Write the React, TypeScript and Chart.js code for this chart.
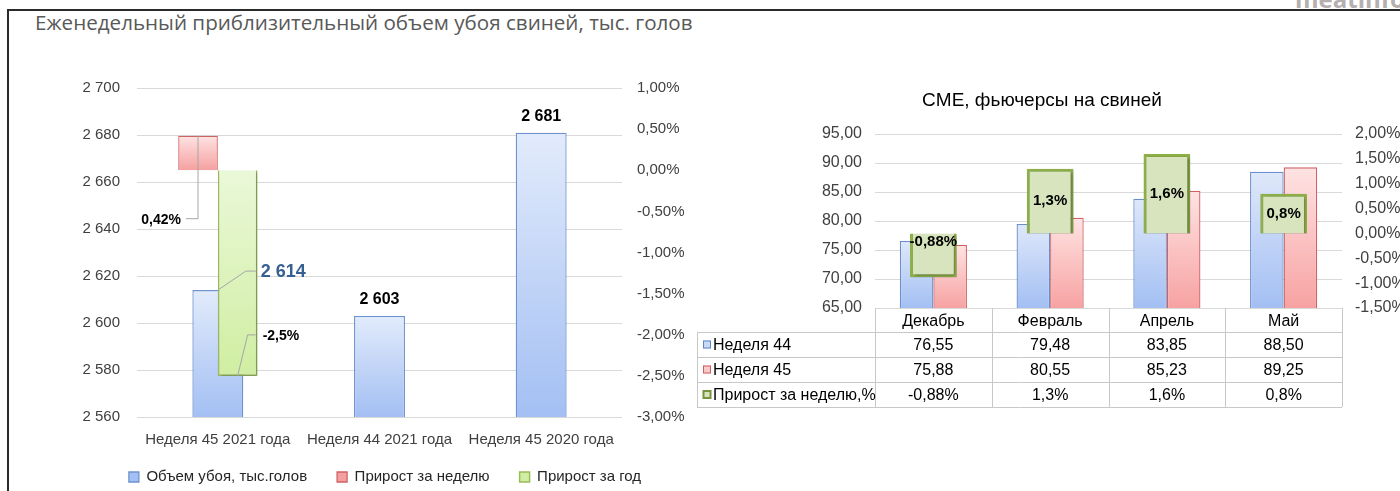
import React, { useEffect, useRef } from 'react';
import { Chart, registerables } from 'chart.js';

Chart.register(...registerables);

// ---------- data: left chart ----------
const leftCategories = ['Неделя 45 2021 года', 'Неделя 44 2021 года', 'Неделя 45 2020 года'];
const slaughterValues = [2614, 2603, 2681];
const weeklyGrowth = [0.42, null, null];
const yearlyGrowth = [-2.5, null, null];
const leftSeriesNames = ['Объем убоя, тыс.голов', 'Прирост за неделю', 'Прирост за год'];

// ---------- data: right chart ----------
const rightCategories = ['Декабрь', 'Февраль', 'Апрель', 'Май'];
const week44 = [76.55, 79.48, 83.85, 88.5];
const week45 = [75.88, 80.55, 85.23, 89.25];
const weekGrowthPct = [-0.88, 1.3, 1.6, 0.8];
const rightSeriesNames = ['Неделя 44', 'Неделя 45', 'Прирост за неделю,%'];

const FONT = "'Liberation Sans', Arial, sans-serif";
const TXT = '#404040';

Chart.defaults.font.family = FONT;
Chart.defaults.color = TXT;

function barGradient(top: string, bottom: string, yAxis: string, baseValue: number | null) {
  return (ctx: any) => {
    const chart = ctx.chart;
    const area = chart.chartArea;
    if (!area || ctx.type !== 'data' || ctx.raw == null) return top;
    const scale = chart.scales[yAxis];
    const yv = scale.getPixelForValue(ctx.raw);
    const yb = baseValue == null ? area.bottom : scale.getPixelForValue(baseValue);
    const y0 = Math.min(yv, yb);
    const y1 = Math.max(yv, yb);
    if (!(y1 > y0)) return top;
    const g = chart.ctx.createLinearGradient(0, y0, 0, y1);
    g.addColorStop(0, top);
    g.addColorStop(1, bottom);
    return g;
  };
}

const fmtThousands = (v: number) => {
  const th = Math.floor(v / 1000);
  const rest = String(Math.round(v % 1000)).padStart(3, '0');
  return th > 0 ? `${th} ${rest}` : rest;
};
const fmtPct2 = (v: number) => v.toFixed(2).replace('.', ',') + '%';
const fmtNum2 = (v: number) => v.toFixed(2).replace('.', ',');
const fmtPctRaw = (v: number) => String(v).replace('.', ',') + '%';

function shadowPlugin(id: string, datasetIndex: number) {
  return {
    id,
    beforeDatasetDraw(chart: any, args: any) {
      if (args.index !== datasetIndex) return;
      const c = chart.ctx;
      c.save();
      c.shadowColor = 'rgba(0,0,0,0.35)';
      c.shadowBlur = 3;
      c.shadowOffsetX = 1.5;
      c.shadowOffsetY = 1.5;
    },
    afterDatasetDraw(chart: any, args: any) {
      if (args.index !== datasetIndex) return;
      chart.ctx.restore();
    },
  };
}

const legendShift = {
  id: 'legendShift',
  afterLayout(chart: any) {
    const l = chart.legend;
    if (l) {
      l.top -= 13.5;
      l.bottom -= 13.5;
    }
  },
};

const leftLabelsPlugin = {
  id: 'leftLabels',
  afterDatasetsDraw(chart: any) {
    const c = chart.ctx;
    c.save();
    const blue = chart.getDatasetMeta(0).data;
    const red = chart.getDatasetMeta(1).data;
    const green = chart.getDatasetMeta(2).data;
    c.strokeStyle = '#A6A6A6';
    c.lineWidth = 1;
    slaughterValues.forEach((v, i) => {
      const b = blue[i];
      if (i === 0) {
        c.beginPath();
        c.moveTo(b.x, b.y);
        c.lineTo(b.x + 28, b.y - 19);
        c.lineTo(b.x + 38, b.y - 19);
        c.stroke();
        c.font = `bold 18px ${FONT}`;
        c.fillStyle = '#376092';
        c.textAlign = 'left';
        c.textBaseline = 'middle';
        c.fillText(fmtThousands(v), b.x + 43, b.y - 18);
      } else {
        c.font = `bold 16px ${FONT}`;
        c.fillStyle = '#000';
        c.textAlign = 'center';
        c.textBaseline = 'bottom';
        c.fillText(fmtThousands(v), b.x, b.y - 8);
      }
    });
    weeklyGrowth.forEach((v, i) => {
      if (v == null) return;
      const r = red[i];
      c.beginPath();
      c.moveTo(r.x, r.y);
      c.lineTo(r.x, r.y + 83);
      c.lineTo(r.x - 12, r.y + 83);
      c.stroke();
      c.font = `bold 14px ${FONT}`;
      c.fillStyle = '#000';
      c.textAlign = 'right';
      c.textBaseline = 'middle';
      c.fillText(fmtPctRaw(v), r.x - 17, r.y + 84);
    });
    yearlyGrowth.forEach((v, i) => {
      if (v == null) return;
      const g = green[i];
      c.beginPath();
      c.moveTo(g.x, g.y);
      c.lineTo(g.x + 10, g.y - 41);
      c.lineTo(g.x + 18, g.y - 41);
      c.stroke();
      c.font = `bold 14px ${FONT}`;
      c.fillStyle = '#000';
      c.textAlign = 'left';
      c.textBaseline = 'middle';
      c.fillText(fmtPctRaw(v), g.x + 25, g.y - 40);
    });
    c.restore();
  },
};

const rightPlugin = {
  id: 'rightTable',
  afterDatasetsDraw(chart: any) {
    const c = chart.ctx;
    const green = chart.getDatasetMeta(2).data;
    c.save();
    c.font = `bold 15px ${FONT}`;
    c.fillStyle = '#000';
    c.textAlign = 'center';
    c.textBaseline = 'middle';
    weekGrowthPct.forEach((v, i) => {
      const g = green[i];
      const top = Math.min(g.y, g.base);
      const bot = Math.max(g.y, g.base);
      const y = v < 0 ? top + 8 : (top + bot) / 2;
      c.fillText(fmtPctRaw(v), g.x, y);
    });
    c.restore();
  },
  afterDraw(chart: any) {
    const c = chart.ctx;
    const xs = chart.scales.x;
    const area = chart.chartArea;
    const n = rightCategories.length;
    const colW = xs.width / n;
    const tableLeft = 7;
    const headerH = 24;
    const rowH = 25;
    const top = area.bottom;
    const rowsTop = top + headerH;
    const rows = [week44, week45, weekGrowthPct];
    const keys = [
      { fill: '#C9D9F6', stroke: '#5B86C9', w: 1 },
      { fill: '#F9C8C8', stroke: '#D05F5F', w: 1 },
      { fill: '#D7E4BD', stroke: '#77933C', w: 2 },
    ];
    c.save();
    c.strokeStyle = '#C8C8C8';
    c.lineWidth = 1;
    c.beginPath();
    for (let i = 0; i <= n; i++) {
      const x = Math.round(xs.left + i * colW) + 0.5;
      c.moveTo(x, top);
      c.lineTo(x, rowsTop + rows.length * rowH);
    }
    for (let r = 0; r <= rows.length; r++) {
      const y = Math.round(rowsTop + r * rowH) + 0.5;
      c.moveTo(tableLeft, y);
      c.lineTo(xs.right, y);
    }
    c.moveTo(tableLeft + 0.5, rowsTop);
    c.lineTo(tableLeft + 0.5, rowsTop + rows.length * rowH);
    c.stroke();

    c.font = `16px ${FONT}`;
    c.textBaseline = 'middle';
    rows.forEach((vals, r) => {
      const cy = rowsTop + r * rowH + rowH / 2 + 1;
      const k = keys[r];
      c.fillStyle = k.fill;
      c.fillRect(tableLeft + 6, cy - 5, 8, 8);
      c.strokeStyle = k.stroke;
      c.lineWidth = k.w;
      c.strokeRect(tableLeft + 6.5, cy - 4.5, 7, 7);
      c.fillStyle = '#000';
      c.textAlign = 'left';
      c.fillText(chart.data.datasets[r].label, tableLeft + 16, cy);
      c.textAlign = 'center';
      vals.forEach((v, i) => {
        const x = xs.getPixelForValue(i);
        c.fillText(r < 2 ? fmtNum2(v) : fmtPctRaw(v), x, cy);
      });
    });
    c.restore();
  },
};

export default function App() {
  const leftRef = useRef<HTMLCanvasElement>(null);
  const rightRef = useRef<HTMLCanvasElement>(null);

  useEffect(() => {
    const left = new Chart(leftRef.current as HTMLCanvasElement, {
      type: 'bar',
      data: {
        labels: leftCategories,
        datasets: [
          {
            label: leftSeriesNames[0],
            data: slaughterValues,
            yAxisID: 'y',
            order: 2,
            grouped: false,
            backgroundColor: barGradient('#E2EBFB', '#A3BFF3', 'y', null),
            borderColor: '#6F93CF',
            borderWidth: 1.3,
            barPercentage: 0.315,
            categoryPercentage: 1,
          } as any,
          {
            label: leftSeriesNames[1],
            data: weeklyGrowth,
            yAxisID: 'y1',
            order: 1,
            backgroundColor: barGradient('#FFE3E3', '#F5A0A0', 'y1', 0),
            borderColor: '#CF6262',
            borderWidth: 1.3,
            barPercentage: 1,
            categoryPercentage: 0.49,
          } as any,
          {
            label: leftSeriesNames[2],
            data: yearlyGrowth,
            yAxisID: 'y1',
            order: 1,
            backgroundColor: barGradient('#EAF8D8', '#D0EEA2', 'y1', 0),
            borderColor: '#9BBB59',
            borderWidth: 1.5,
            barPercentage: 1,
            categoryPercentage: 0.49,
          } as any,
        ],
      },
      options: {
        responsive: false,
        animation: false,
        events: [],
        layout: { padding: { left: 70, right: 0, top: 88, bottom: 2 } },
        plugins: {
          legend: {
            position: 'bottom',
            labels: {
              boxWidth: 10,
              boxHeight: 10,
              padding: 30,
              font: { size: 15, family: FONT },
              color: '#262626',
              sort: (a: any, b: any) => a.datasetIndex - b.datasetIndex,
            },
          },
          tooltip: { enabled: false },
        },
        scales: {
          x: {
            type: 'category',
            grid: { display: false, drawTicks: false },
            border: { display: false },
            ticks: { font: { size: 15, family: FONT }, color: TXT, padding: 14, maxRotation: 0 },
            afterFit: (s: any) => { s.height = 36; },
          },
          y: {
            position: 'left',
            min: 2560,
            max: 2700,
            ticks: { stepSize: 20, font: { size: 15, family: FONT }, color: TXT, padding: 17, callback: (v: any) => fmtThousands(Number(v)) },
            grid: { color: '#D9D9D9', drawTicks: false },
            border: { display: false },
            afterFit: (s: any) => { s.width = 67; },
          },
          y1: {
            position: 'right',
            min: -3,
            max: 1,
            ticks: { stepSize: 0.5, font: { size: 15, family: FONT }, color: TXT, padding: 15, callback: (v: any) => fmtPct2(Number(v)) },
            grid: { display: false, drawTicks: false },
            border: { display: false },
            afterFit: (s: any) => { s.width = 78; },
          },
        },
      } as any,
      plugins: [shadowPlugin('leftShadow', 2), leftLabelsPlugin, legendShift],
    });

    const right = new Chart(rightRef.current as HTMLCanvasElement, {
      type: 'bar',
      data: {
        labels: rightCategories,
        datasets: [
          {
            label: rightSeriesNames[0],
            data: week44,
            yAxisID: 'y',
            order: 2,
            backgroundColor: barGradient('#DFE8FA', '#A3BFF3', 'y', null),
            borderColor: '#6A8FCB',
            borderWidth: 1.3,
            barPercentage: 1,
            categoryPercentage: 0.575,
          } as any,
          {
            label: rightSeriesNames[1],
            data: week45,
            yAxisID: 'y',
            order: 2,
            backgroundColor: barGradient('#FFE3E3', '#F7A2A2', 'y', null),
            borderColor: '#CF6262',
            borderWidth: 1.3,
            barPercentage: 1,
            categoryPercentage: 0.575,
          } as any,
          {
            label: rightSeriesNames[2],
            data: weekGrowthPct,
            yAxisID: 'y1',
            order: 1,
            grouped: false,
            backgroundColor: '#D7E4BD',
            borderColor: '#8DB048',
            borderWidth: 3,
            barPercentage: 0.4,
            categoryPercentage: 1,
          } as any,
        ],
      },
      options: {
        responsive: false,
        animation: false,
        events: [],
        layout: { padding: { left: 0, right: 0, top: 134, bottom: 83 } },
        plugins: {
          legend: { display: false },
          tooltip: { enabled: false },
        },
        scales: {
          x: {
            type: 'category',
            grid: { display: false, drawTicks: false },
            border: { display: false },
            ticks: { font: { size: 16, family: FONT }, color: '#000', padding: 4, maxRotation: 0 },
            afterFit: (s: any) => { s.height = 100; },
          },
          y: {
            position: 'left',
            min: 65,
            max: 95,
            ticks: { stepSize: 5, font: { size: 16, family: FONT }, color: TXT, padding: 13, callback: (v: any) => fmtNum2(Number(v)) },
            grid: { color: '#D9D9D9', drawTicks: false },
            border: { display: false },
            afterFit: (s: any) => { s.width = 185; },
          },
          y1: {
            position: 'right',
            min: -1.5,
            max: 2,
            ticks: { stepSize: 0.5, font: { size: 16, family: FONT }, color: TXT, padding: 13, callback: (v: any) => fmtPct2(Number(v)) },
            grid: { display: false, drawTicks: false },
            border: { display: false },
            afterFit: (s: any) => { s.width = 108; },
          },
        },
      } as any,
      plugins: [shadowPlugin('rightShadow', 2), rightPlugin],
    });

    return () => {
      left.destroy();
      right.destroy();
    };
  }, []);

  return (
    <div style={{ position: 'fixed', left: 0, top: 0, width: 1400, height: 491, overflow: 'hidden', background: '#fff' }}>
      <div style={{ position: 'absolute', left: 1295, top: -18, font: `bold 24px 'Open Sans', sans-serif`, color: '#B5AFAF', whiteSpace: 'nowrap' }}>meatinfo</div>
      <div style={{ position: 'absolute', left: 7, top: 9, width: 1500, height: 600, borderLeft: '2px solid #2b2b2b', borderTop: '2px solid #2b2b2b' }} />
      <div style={{ position: 'absolute', left: 35, top: 8, font: `20.6px 'Open Sans', sans-serif`, color: '#595959', whiteSpace: 'nowrap' }}>
        Еженедельный приблизительный объем убоя свиней, тыс. голов
      </div>
      <canvas ref={leftRef} width={700} height={510} style={{ position: 'absolute', left: 0, top: 0, width: 700, height: 510 }} />
      <canvas ref={rightRef} width={760} height={491} style={{ position: 'absolute', left: 690, top: 0, width: 760, height: 491 }} />
      <div style={{ position: 'absolute', left: 842, top: 89, width: 400, textAlign: 'center', font: `19px ${FONT}`, color: '#000', whiteSpace: 'nowrap' }}>
        CME, фьючерсы на свиней
      </div>
    </div>
  );
}
